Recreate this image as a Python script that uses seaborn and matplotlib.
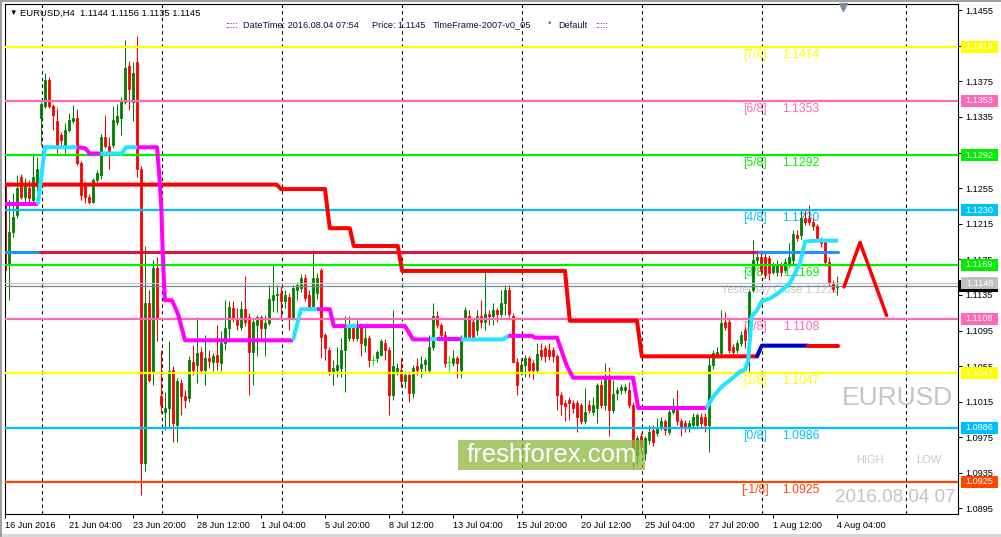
import numpy as np
import pandas as pd
import matplotlib
matplotlib.use("Agg")
import matplotlib.pyplot as plt
import matplotlib.transforms as mtransforms
from matplotlib.patches import Rectangle
import seaborn as sns

sns.set_theme(style="white")
plt.rcParams["font.family"] = ["Liberation Sans", "DejaVu Sans"]

# EURUSD H4 candles, bar 0 = 16 Jun 2016
opens = [1.1261, 1.1169, 1.1206, 1.1225, 1.1268, 1.1245, 1.1255, 1.1242, 1.1257, 1.1334,
         1.1347, 1.1377, 1.1347, 1.1330, 1.1315, 1.1302, 1.1320, 1.1330, 1.1334, 1.1283,
         1.1257, 1.1245, 1.1240, 1.1264, 1.1270, 1.1313, 1.1302, 1.1303, 1.1329, 1.1334,
         1.1352, 1.1392, 1.1352, 1.1397, 1.1276, 1.0946, 1.1126, 1.1049, 1.1165, 1.1021,
         1.1004, 1.1008, 1.1051, 1.0989, 1.1036, 1.1021, 1.1019, 1.1060, 1.1056, 1.1071,
         1.1051, 1.1064, 1.1060, 1.1067, 1.1059, 1.1081, 1.1098, 1.1120, 1.1109, 1.1099,
         1.1119, 1.1110, 1.1071, 1.1101, 1.1110, 1.1098, 1.1103, 1.1129, 1.1135, 1.1137,
         1.1128, 1.1133, 1.1109, 1.1141, 1.1143, 1.1154, 1.1135, 1.1123, 1.1137, 1.1163,
         1.1090, 1.1073, 1.1049, 1.1051, 1.1053, 1.1073, 1.1087, 1.1098, 1.1087, 1.1100,
         1.1079, 1.1087, 1.1062, 1.1064, 1.1068, 1.1081, 1.1073, 1.1023, 1.1049, 1.1051,
         1.1038, 1.1045, 1.1025, 1.1055, 1.1053, 1.1057, 1.1051, 1.1077, 1.1111, 1.1101,
         1.1090, 1.1060, 1.1058, 1.1064, 1.1051, 1.1086, 1.1111, 1.1105, 1.1096, 1.1111,
         1.1105, 1.1114, 1.1111, 1.1118, 1.1114, 1.1126, 1.1140, 1.1111, 1.1060, 1.1049,
         1.1056, 1.1064, 1.1058, 1.1051, 1.1073, 1.1075, 1.1073, 1.1073, 1.1066, 1.1023,
         1.1014, 1.1017, 1.1014, 1.1014, 1.1011, 1.0993, 1.1011, 1.1004, 1.1008, 1.1034,
         1.1011, 1.1043, 1.1006, 1.1025, 1.1028, 1.1028, 1.1028, 1.1011, 1.0955, 1.0976,
         1.0957, 1.0972, 1.0983, 1.0980, 1.0987, 1.0993, 1.0981, 1.1004, 1.1008, 1.0993,
         1.0991, 1.0987, 1.0989, 1.0989, 1.0998, 1.0998, 1.0989, 1.1056, 1.1068, 1.1070,
         1.1105, 1.1105, 1.1077, 1.1073, 1.1081, 1.1096, 1.1087, 1.1141, 1.1174, 1.1178,
         1.1178, 1.1176, 1.1161, 1.1161, 1.1169, 1.1163, 1.1169, 1.1174, 1.1202, 1.1202,
         1.1221, 1.1221, 1.1217, 1.1212, 1.1197, 1.1195, 1.1172, 1.1148, 1.1144]
highs = [1.1264, 1.1242, 1.1250, 1.1270, 1.1271, 1.1266, 1.1264, 1.1295, 1.1290, 1.1352,
         1.1384, 1.1380, 1.1350, 1.1345, 1.1318, 1.1328, 1.1340, 1.1348, 1.1344, 1.1286,
         1.1262, 1.1248, 1.1266, 1.1275, 1.1316, 1.1337, 1.1313, 1.1347, 1.1350, 1.1357,
         1.1422, 1.1398, 1.1397, 1.1426, 1.1280, 1.1190, 1.1141, 1.1174, 1.1178, 1.1073,
         1.1026, 1.1083, 1.1055, 1.1042, 1.1040, 1.1028, 1.1066, 1.1079, 1.1110, 1.1077,
         1.1090, 1.1073, 1.1070, 1.1101, 1.1094, 1.1129, 1.1128, 1.1128, 1.1120, 1.1128,
         1.1156, 1.1115, 1.1108, 1.1112, 1.1112, 1.1112, 1.1146, 1.1169, 1.1146, 1.1145,
         1.1140, 1.1137, 1.1146, 1.1150, 1.1158, 1.1158, 1.1140, 1.1185, 1.1160, 1.1165,
         1.1092, 1.1076, 1.1062, 1.1077, 1.1087, 1.1111, 1.1111, 1.1103, 1.1107, 1.1103,
         1.1098, 1.1090, 1.1068, 1.1073, 1.1085, 1.1085, 1.1077, 1.1118, 1.1058, 1.1064,
         1.1050, 1.1049, 1.1056, 1.1064, 1.1066, 1.1064, 1.1090, 1.1126, 1.1117, 1.1103,
         1.1094, 1.1068, 1.1073, 1.1066, 1.1090, 1.1122, 1.1118, 1.1108, 1.1118, 1.1129,
         1.1163, 1.1118, 1.1126, 1.1120, 1.1140, 1.1146, 1.1146, 1.1115, 1.1064, 1.1064,
         1.1068, 1.1066, 1.1062, 1.1081, 1.1081, 1.1079, 1.1081, 1.1077, 1.1069, 1.1026,
         1.1017, 1.1020, 1.1017, 1.1017, 1.1014, 1.1030, 1.1017, 1.1020, 1.1036, 1.1039,
         1.1058, 1.1054, 1.1039, 1.1032, 1.1035, 1.1035, 1.1037, 1.1015, 1.0978, 1.0980,
         1.0976, 1.0989, 1.0989, 1.0997, 1.0998, 1.0996, 1.1006, 1.1019, 1.1028, 1.0996,
         1.0994, 1.0994, 1.1002, 1.1002, 1.1002, 1.1002, 1.1066, 1.1073, 1.1076, 1.1118,
         1.1116, 1.1108, 1.1080, 1.1084, 1.1094, 1.1099, 1.1141, 1.1197, 1.1185, 1.1185,
         1.1182, 1.1180, 1.1172, 1.1174, 1.1172, 1.1176, 1.1193, 1.1208, 1.1208, 1.1232,
         1.1232, 1.1236, 1.1222, 1.1215, 1.1200, 1.1197, 1.1178, 1.1152, 1.1156]
lows = [1.1160, 1.1129, 1.1200, 1.1222, 1.1243, 1.1240, 1.1240, 1.1238, 1.1252, 1.1304,
        1.1345, 1.1345, 1.1320, 1.1295, 1.1300, 1.1295, 1.1318, 1.1328, 1.1281, 1.1242,
        1.1238, 1.1237, 1.1238, 1.1262, 1.1265, 1.1300, 1.1276, 1.1300, 1.1326, 1.1315,
        1.1350, 1.1343, 1.1330, 1.1268, 1.0910, 1.0937, 1.1037, 1.1034, 1.1083, 1.1002,
        1.0983, 1.0987, 1.0970, 1.0970, 1.1000, 1.1008, 1.1015, 1.1045, 1.1036, 1.1047,
        1.1034, 1.1053, 1.1049, 1.1051, 1.1049, 1.1073, 1.1083, 1.1105, 1.1096, 1.1096,
        1.1100, 1.1023, 1.1034, 1.1066, 1.1083, 1.1066, 1.1101, 1.1116, 1.1116, 1.1107,
        1.1120, 1.1096, 1.1107, 1.1129, 1.1138, 1.1128, 1.1118, 1.1120, 1.1130, 1.1064,
        1.1062, 1.1045, 1.1034, 1.1043, 1.1043, 1.1026, 1.1083, 1.1083, 1.1083, 1.1066,
        1.1071, 1.1054, 1.1056, 1.1060, 1.1066, 1.1062, 1.1000, 1.1017, 1.1045, 1.1032,
        1.1030, 1.1015, 1.1019, 1.1045, 1.1043, 1.1050, 1.1048, 1.1073, 1.1098, 1.1084,
        1.1054, 1.1049, 1.1055, 1.1042, 1.1042, 1.1084, 1.1085, 1.1083, 1.1090, 1.1098,
        1.1096, 1.1101, 1.1101, 1.1105, 1.1110, 1.1113, 1.1110, 1.1058, 1.1023, 1.1045,
        1.1043, 1.1043, 1.1040, 1.1048, 1.1062, 1.1060, 1.1062, 1.1060, 1.1006, 1.1000,
        1.0993, 1.0995, 1.1002, 1.0981, 1.0990, 1.0990, 1.1002, 1.1000, 1.0991, 1.1008,
        1.1006, 1.0977, 1.1002, 1.1017, 1.1024, 1.1025, 1.1008, 1.0942, 1.0945, 1.0960,
        1.0949, 1.0968, 1.0965, 1.0976, 1.0983, 1.0978, 1.0978, 1.1001, 1.0989, 1.0976,
        1.0981, 1.0981, 1.0986, 1.0986, 1.0986, 1.0981, 1.0959, 1.1052, 1.1064, 1.1066,
        1.1096, 1.1070, 1.1066, 1.1070, 1.1078, 1.1075, 1.1047, 1.1138, 1.1168, 1.1158,
        1.1154, 1.1152, 1.1158, 1.1156, 1.1156, 1.1160, 1.1166, 1.1170, 1.1196, 1.1198,
        1.1214, 1.1214, 1.1208, 1.1196, 1.1189, 1.1168, 1.1145, 1.1138, 1.1135]
closes = [1.1163, 1.1206, 1.1223, 1.1255, 1.1245, 1.1261, 1.1244, 1.1268, 1.1276, 1.1350,
          1.1377, 1.1347, 1.1337, 1.1302, 1.1309, 1.1320, 1.1332, 1.1334, 1.1283, 1.1247,
          1.1245, 1.1240, 1.1264, 1.1272, 1.1313, 1.1302, 1.1296, 1.1332, 1.1336, 1.1352,
          1.1390, 1.1366, 1.1384, 1.1276, 1.0946, 1.1126, 1.1039, 1.1165, 1.1109, 1.1011,
          1.1008, 1.1049, 1.0991, 1.1038, 1.1021, 1.1017, 1.1062, 1.1051, 1.1070, 1.1051,
          1.1064, 1.1061, 1.1066, 1.1060, 1.1081, 1.1098, 1.1122, 1.1109, 1.1101, 1.1119,
          1.1105, 1.1071, 1.1105, 1.1110, 1.1098, 1.1103, 1.1131, 1.1135, 1.1136, 1.1128,
          1.1135, 1.1109, 1.1143, 1.1146, 1.1154, 1.1132, 1.1122, 1.1154, 1.1154, 1.1088,
          1.1075, 1.1049, 1.1053, 1.1056, 1.1073, 1.1098, 1.1101, 1.1087, 1.1100, 1.1081,
          1.1087, 1.1062, 1.1062, 1.1071, 1.1083, 1.1073, 1.1023, 1.1055, 1.1053, 1.1038,
          1.1045, 1.1025, 1.1053, 1.1051, 1.1057, 1.1062, 1.1077, 1.1111, 1.1101, 1.1090,
          1.1058, 1.1060, 1.1064, 1.1058, 1.1086, 1.1118, 1.1088, 1.1086, 1.1111, 1.1105,
          1.1114, 1.1111, 1.1118, 1.1114, 1.1126, 1.1140, 1.1114, 1.1060, 1.1034, 1.1056,
          1.1064, 1.1051, 1.1051, 1.1069, 1.1066, 1.1066, 1.1066, 1.1066, 1.1023, 1.1012,
          1.1010, 1.1014, 1.1008, 1.0998, 1.0993, 1.1004, 1.1006, 1.1011, 1.1034, 1.1011,
          1.1043, 1.1006, 1.1024, 1.1028, 1.1031, 1.1031, 1.1011, 1.0953, 1.0974, 1.0965,
          1.0974, 1.0981, 1.0970, 1.0987, 1.0993, 1.0983, 1.1004, 1.1010, 1.0993, 1.0987,
          1.0987, 1.0991, 1.0998, 1.1000, 1.0991, 1.0989, 1.1056, 1.1070, 1.1071, 1.1103,
          1.1099, 1.1073, 1.1071, 1.1081, 1.1090, 1.1084, 1.1138, 1.1174, 1.1178, 1.1163,
          1.1157, 1.1160, 1.1168, 1.1169, 1.1161, 1.1172, 1.1178, 1.1204, 1.1199, 1.1221,
          1.1217, 1.1217, 1.1212, 1.1199, 1.1193, 1.1172, 1.1148, 1.1142, 1.1145]

time_labels = ["16 Jun 2016", "21 Jun 04:00", "23 Jun 20:00", "28 Jun 12:00", "1 Jul 04:00",
               "5 Jul 20:00", "8 Jul 12:00", "13 Jul 04:00", "15 Jul 20:00", "20 Jul 12:00",
               "25 Jul 04:00", "27 Jul 20:00", "1 Aug 12:00", "4 Aug 04:00"]
time_label_bars = [0, 16, 32, 48, 64, 80, 96, 112, 128, 144, 160, 176, 192, 208]
grid_bars = [9.2, 39.2, 69.2, 99.2, 129.2, 159.2, 189.2, 225.2]
price_ticks = [1.0895, 1.0935, 1.0975, 1.1015, 1.1055, 1.1095, 1.1135, 1.1175,
               1.1215, 1.1255, 1.1295, 1.1335, 1.1375, 1.1415, 1.1455]
# these two sit fully under the level boxes, so they get no text
hidden_ticks = [1.1295, 1.1415]

# Murrey math levels
murrey_levels = [1.1414, 1.1353, 1.1292, 1.1230, 1.1169, 1.1108, 1.1047, 1.0986, 1.0925]
murrey_names = ["[7/8]", "[6/8]", "[5/8]", "[4/8]", "[3/8]", "[2/8]", "[1/8]", "[0/8]", "[-1/8]"]
murrey_colors = ["#FFFF00", "#FF69B4", "#00EE00", "#00BFFF", "#00EE00",
                 "#FF69B4", "#FFFF00", "#00BFFF", "#FF4500"]

pivot_level = 1.1183
pivot_breaks = [-0.2, 8.8, 188.3, 208.3]
pivot_colors = ["#1E90FF", "#DC143C", "#1E90FF"]

prev_high_line = 1.1148
bid_line = 1.1145

# red step line
red_bar = [-0.2, 67.9, 69.0, 80.0, 81.2, 86.2, 87.2, 98.2, 99.3, 140.0, 141.2, 158.0, 159.2, 188.0]
red_price = [1.1259, 1.1259, 1.1254, 1.1254, 1.1210, 1.1210, 1.1190, 1.1190, 1.1162, 1.1162,
             1.1106, 1.1106, 1.1066, 1.1066]
blue_bar = [188.0, 189.2, 200.8]
blue_price = [1.1066, 1.1078, 1.1078]
red_tail_bar = [200.8, 208.3]
red_tail_price = [1.1078, 1.1078]

# magenta / cyan trailing line
mc_bar = [-0.2, 8.2, 10.0, 18.0, 20.0, 21.2, 23.8, 29.2, 30.3, 33.0,
          38.0, 38.6, 39.1, 39.4, 39.75, 40.0, 41.75, 43.3, 45.0, 72.0,
          74.0, 78.0, 81.2, 82.2, 85.4, 88.0, 100.0, 102.0, 106.2, 108.0,
          114.0, 124.5, 125.8, 131.7, 132.5, 138.0, 140.4, 142.0, 157.0, 158.3,
          175.4, 177.1, 179.2, 181.2, 183.8, 185.0, 185.8, 186.2, 186.7, 188.0,
          189.2, 191.2, 193.3, 196.2, 198.8, 200.0, 203.0, 208.3]
mc_price = [1.1237, 1.1237, 1.1301, 1.1301, 1.1300, 1.1294, 1.1294, 1.1294, 1.1301, 1.1301,
            1.1301, 1.1268, 1.1231, 1.1186, 1.1148, 1.1129, 1.1129, 1.1113, 1.1084, 1.1084,
            1.1119, 1.1119, 1.1119, 1.1100, 1.1100, 1.1100, 1.1100, 1.1085, 1.1085, 1.1085,
            1.1085, 1.1085, 1.1089, 1.1089, 1.1087, 1.1087, 1.1056, 1.1042, 1.1042, 1.1008,
            1.1008, 1.1021, 1.1032, 1.1039, 1.1049, 1.1051, 1.1062, 1.1084, 1.1111, 1.1118,
            1.1128, 1.1131, 1.1137, 1.1148, 1.1171, 1.1195, 1.1196, 1.1196]
mc_segment = "mccmmmcccmmmmmmmmmmccmmmcmmmcmccmmmmmmmm" + "ccccccccccccccccc"

# forecast zig-zag
zig_bar = [209.75, 213.75, 220.4]
zig_price = [1.1144, 1.1194, 1.1112]

W, H = 1001, 537
fig = plt.figure(figsize=(W / 100, H / 100), dpi=100)
fig.patch.set_facecolor("white")
ax = fig.add_axes([4.5 / W, 23 / H, 953.5 / W, 510 / H])
ax.set_facecolor("white")
ax.set_xlim(-0.125, 238.25)
ax.set_ylim(1.08888, 1.14620)

# grid
for g in grid_bars:
    ax.axvline(g, color="black", lw=0.8, ls=(0, (3, 3)), zorder=1)

# candles
df = pd.DataFrame({"open": opens, "high": highs, "low": lows, "close": closes})
df["bar"] = np.arange(len(df))
df["color"] = np.where(df["close"] > df["open"], "#008000",
                       np.where(df["close"] < df["open"], "#FF0000", "#00FF00"))
ax.vlines(df["bar"], df["low"], df["high"], colors=df["color"], lw=0.75, zorder=2)
body = df[df["close"] != df["open"]]
ax.bar(body["bar"], body["close"] - body["open"], bottom=body["open"], width=0.6,
       color=body["color"], edgecolor=body["color"], linewidth=0.6, zorder=2)
doji = df[df["close"] == df["open"]]
ax.hlines(doji["close"], doji["bar"] - 0.45, doji["bar"] + 0.45, colors="#00FF00", lw=0.75, zorder=2)

# murrey lines and labels
for lvl, name, col in zip(murrey_levels, murrey_names, murrey_colors):
    ax.axhline(lvl, color=col, lw=1.6, zorder=3)
    ax.text(187.5, lvl - 0.0009, name, color=col, fontsize=8.8, ha="center", va="center", zorder=1.5)
    ax.text(199, lvl - 0.0009, f"{lvl:.4f}", color=col, fontsize=8.8, ha="center", va="center", zorder=1.5)

ax.axhline(prev_high_line, color="#C0C0C0", lw=0.9, zorder=3)
ax.axhline(bid_line, color="#778899", lw=0.9, zorder=3)

for i, col in enumerate(pivot_colors):
    sns.lineplot(x=pivot_breaks[i:i + 2], y=[pivot_level, pivot_level], color=col, lw=2.2,
                 sort=False, estimator=None, ax=ax, zorder=3.5)

sns.lineplot(x=red_bar, y=red_price, color="#FF0000", lw=2.9, sort=False, estimator=None, ax=ax, zorder=4)
sns.lineplot(x=blue_bar, y=blue_price, color="#0000CD", lw=2.9, sort=False, estimator=None, ax=ax, zorder=4)
sns.lineplot(x=red_tail_bar, y=red_tail_price, color="#FF0000", lw=2.9, sort=False, estimator=None, ax=ax, zorder=4)

mc_colors = {"m": "#FF00FF", "c": "#22E6FF"}
start = 0
for k in range(1, len(mc_segment) + 1):
    if k == len(mc_segment) or mc_segment[k] != mc_segment[start]:
        ax.plot(mc_bar[start:k + 1], mc_price[start:k + 1], color=mc_colors[mc_segment[start]],
                lw=2.9, solid_joinstyle="round", solid_capstyle="butt", zorder=4.5)
        start = k

sns.lineplot(x=zig_bar, y=zig_price, color="#FF0000", lw=2.5, sort=False, estimator=None, ax=ax, zorder=4)

# watermark texts inside the chart
ax.text(178.9, 1.1145 - 0.0004, "Yesterday Close 1.1222", color="#C8C8C8", fontsize=8,
        ha="left", va="center", zorder=1.5)
fig.text(897.5 / W, 1 - 398 / H, "EURUSD", color="#C4C4C4", fontsize=19, ha="center", va="center")
fig.text(869.5 / W, 1 - 460 / H, "HIGH", color="#C8C8C8", fontsize=8, ha="center", va="center")
fig.text(928.5 / W, 1 - 460 / H, "LOW", color="#C8C8C8", fontsize=8, ha="center", va="center")
date_txt = ax.text(835 / W, 1 - 497 / H, "2016.08.04 07:54", color="#C4C4C4", fontsize=13.5,
                   ha="left", va="center", transform=fig.transFigure)
date_txt.set_clip_box(ax.bbox)
date_txt.set_clip_on(True)

# freshforex box
fig.add_artist(Rectangle((458 / W, 1 - 469.5 / H), 187 / W, 29.5 / H, transform=fig.transFigure,
                         facecolor="#8cb83f", edgecolor="none", alpha=0.75, zorder=4))
fig.text(551.5 / W, 1 - 455.5 / H, "freshforex.com", color="white", fontsize=18.5,
         ha="center", va="center", zorder=5)

# axes styling
for s in ax.spines.values():
    s.set_color("black")
    s.set_linewidth(0.8)
ax.yaxis.tick_right()
ax.set_yticks(price_ticks, ["" if p in hidden_ticks else f"{p:.4f}" for p in price_ticks])
ax.set_xticks(time_label_bars, time_labels)
for t in ax.get_xticklabels():
    t.set_ha("left")
ax.tick_params(axis="x", bottom=True, direction="out", length=3, width=0.75, color="black",
               labelsize=6.6, labelcolor="black", pad=2)
ax.tick_params(axis="y", right=True, left=False, direction="out", length=3, width=0.75,
               color="black", labelsize=6.6, labelcolor="black", pad=2.5)
ax.grid(False)
ax.set_xlabel("")
ax.set_ylabel("")

# price boxes on the right scale
blend = mtransforms.blended_transform_factory(fig.transFigure, ax.transData)
box_h = 0.00135
fig.add_artist(Rectangle((959 / W, bid_line - box_h / 2), 39 / W, box_h, transform=blend,
                         facecolor="black", edgecolor="none", zorder=5))
fig.add_artist(Rectangle((961 / W, prev_high_line - box_h / 2), 37 / W, box_h, transform=blend,
                         facecolor="#C0C0C0", edgecolor="none", zorder=6))
fig.text(979.5 / W, prev_high_line, f"{prev_high_line:.4f}", transform=blend, color="white",
         fontsize=6.6, ha="center", va="center", zorder=6.5)
for lvl, col in zip(murrey_levels, murrey_colors):
    fig.add_artist(Rectangle((961 / W, lvl - box_h / 2), 37 / W, box_h, transform=blend,
                             facecolor=col, edgecolor="none", zorder=7))
    fig.text(979.5 / W, lvl, f"{lvl:.4f}", transform=blend, color="white", fontsize=6.6,
             ha="center", va="center", zorder=7.5)

# header
fig.text(9 / W, 1 - 13 / H, "\u25bc", fontsize=5.5, color="black", va="center")
fig.text(20.5 / W, 1 - 13 / H,
         f"EURUSD,H4  {opens[-1]:.4f} {highs[-1]:.4f} {lows[-1]:.4f} {closes[-1]:.4f}",
         fontsize=6.8, color="black", va="center")
fig.text(225 / W, 1 - 25 / H, ":::::", fontsize=6.6, color="#800080", va="center")
fig.text(243 / W, 1 - 25 / H, "DateTime: 2016.08.04 07:54", fontsize=6.6, color="#101040", va="center")
fig.text(372 / W, 1 - 25 / H, f"Price: {closes[-1]:.4f}", fontsize=6.6, color="#101040", va="center")
fig.text(433 / W, 1 - 25 / H, "TimeFrame-2007-v0_05", fontsize=6.6, color="#101040", va="center")
fig.text(548 / W, 1 - 24 / H, "*", fontsize=6.6, color="#800080", va="center")
fig.text(558 / W, 1 - 25 / H, "Default", fontsize=6.6, color="#101040", va="center")
fig.text(595 / W, 1 - 25 / H, ":::::", fontsize=6.6, color="#800080", va="center")
fig.lines.append(plt.Line2D([843 / W], [1 - 6.5 / H], marker="v", markersize=5.5, color="#7f8c99",
                            transform=fig.transFigure))

# window frame
fig.add_artist(Rectangle((0, 0), 1, 3 / H, transform=fig.transFigure, facecolor="#d8d8d8", edgecolor="none"))
fig.add_artist(Rectangle((0, 0), 2 / W, 1, transform=fig.transFigure, facecolor="#a0a0a0", edgecolor="none"))
fig.add_artist(Rectangle((0, 1 - 1.5 / H), 1, 1.5 / H, transform=fig.transFigure, facecolor="#a0a0a0", edgecolor="none"))

fig.savefig("out.png", dpi=100)
